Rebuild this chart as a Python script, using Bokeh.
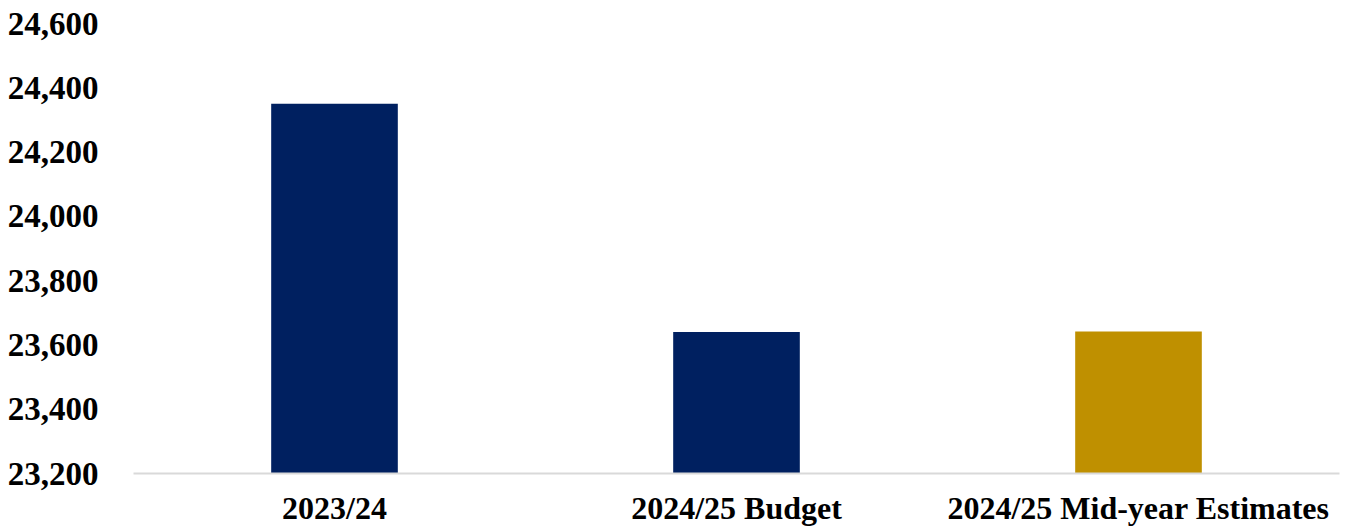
from bokeh.plotting import figure
from bokeh.models import ColumnDataSource, FactorRange, Range1d, FixedTicker, NumeralTickFormatter
from bokeh.embed import file_html
from bokeh.resources import INLINE

categories = ["2023/24", "2024/25 Budget", "2024/25 Mid-year Estimates"]
values = [24350, 23640, 23642]
y_ticks = [23200, 23400, 23600, 23800, 24000, 24200, 24400, 24600]

bar_colors = ["#002060", "#002060", "#BF9000"]

source = ColumnDataSource(dict(cat=categories, val=values, color=bar_colors))

p = figure(
    width=1350, height=529,
    x_range=FactorRange(*categories, range_padding=0),
    y_range=Range1d(y_ticks[0], y_ticks[-1]),
    output_backend="svg", toolbar_location=None,
    min_border_left=133, min_border_right=11, min_border_top=23, min_border_bottom=56,
)
p.vbar(x="cat", top="val", bottom=y_ticks[0], width=0.315, color="color", line_color=None, source=source)

p.xgrid.visible = False
p.ygrid.visible = False
p.outline_line_color = None

font = "Liberation Serif"
ya = p.yaxis[0]
ya.ticker = FixedTicker(ticks=y_ticks)
ya.formatter = NumeralTickFormatter(format="0,0")
ya.axis_line_color = None
ya.major_tick_line_color = None
ya.minor_tick_line_color = None
ya.major_label_text_font = font
ya.major_label_text_font_style = "bold"
ya.major_label_text_font_size = "33px"
ya.major_label_text_color = "#000000"
ya.major_label_standoff = 29

xa = p.xaxis[0]
xa.axis_line_color = "#d9d9d9"
xa.axis_line_width = 2
xa.major_tick_line_color = None
xa.minor_tick_line_color = None
xa.major_label_text_font = font
xa.major_label_text_font_style = "bold"
xa.major_label_text_font_size = "32px"
xa.major_label_text_color = "#000000"
xa.major_label_standoff = 10

open("out.html", "w").write(file_html(p, INLINE))
